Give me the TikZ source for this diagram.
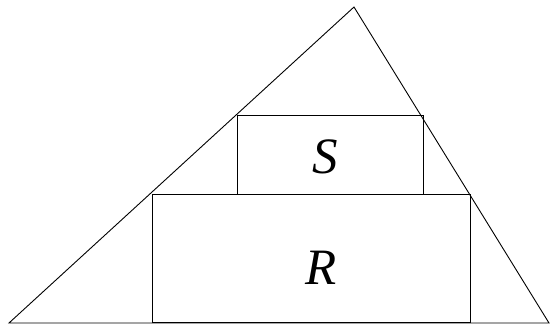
\documentclass[tikz,border=0pt]{standalone}
\usepackage{fontspec}
\setmainfont{Liberation Serif}
\begin{document}
\begin{tikzpicture}[x=1pt,y=-1pt,
  edge/.style={draw=black,line width=0.9pt},
  box/.style={draw=black,line width=0.9pt},
  lbl/.style={font=\fontsize{51}{51}\selectfont\itshape,inner sep=0pt}]
\useasboundingbox (0,0) rectangle (550,324);
\coordinate (A) at (9,323);
\coordinate (B) at (549,323);
\coordinate (C) at (354,7);
\draw[edge] (A) -- (C) -- (B) -- cycle;
\draw[box] (152,194.5) rectangle (470.5,322.5);
\draw[box] (237.3,115) rectangle (423,194.5);
\node[lbl] (S) at (325,157) {S};
\node[lbl] (R) at (321.5,268) {R};
\end{tikzpicture}
\end{document}
